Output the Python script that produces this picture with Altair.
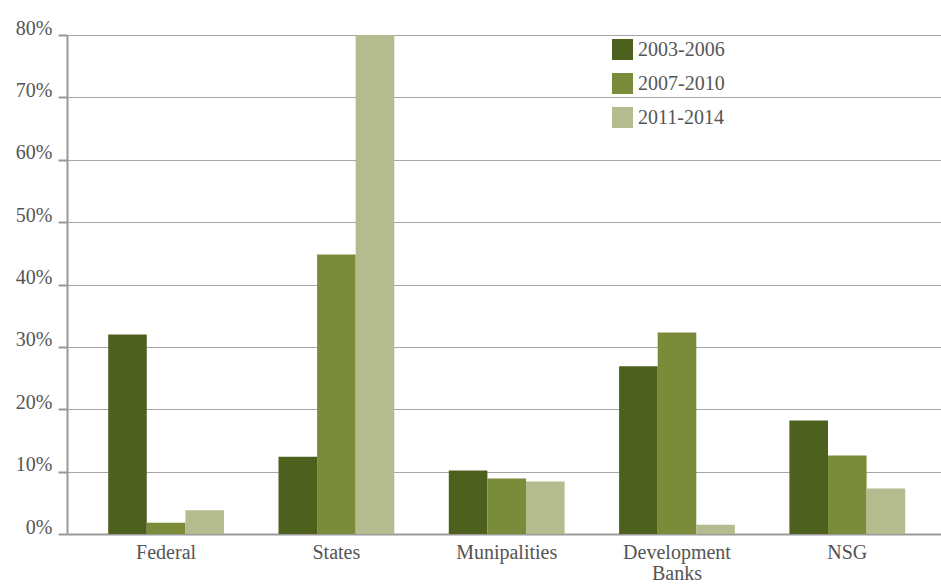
import altair as alt
import pandas as pd

# Share of issuance by issuer type, per period (percent)
categories = ["Federal", "States", "Munipalities", "Development Banks", "NSG"]
periods = ["2003-2006", "2007-2010", "2011-2014"]
share_2003_2006 = [32.0, 12.4, 10.2, 26.9, 18.2]
share_2007_2010 = [1.8, 44.8, 8.9, 32.3, 12.6]
share_2011_2014 = [3.8, 80.0, 8.4, 1.5, 7.3]
y_ticks = [0, 0.1, 0.2, 0.3, 0.4, 0.5, 0.6, 0.7, 0.8]

colors = ["#4e601e", "#7a8b3a", "#b4bb8e"]
font = "Liberation Serif"
text_color = "#555555"

rows = []
for period, values in zip(periods, [share_2003_2006, share_2007_2010, share_2011_2014]):
    for cat, v in zip(categories, values):
        rows.append({"category": cat, "period": period, "share": v / 100})
df = pd.DataFrame(rows)

chart = (
    alt.Chart(df)
    .mark_bar()
    .encode(
        x=alt.X(
            "category:N",
            sort=categories,
            title=None,
            scale=alt.Scale(paddingInner=0.32, paddingOuter=0.226, align=0.535),
            axis=alt.Axis(
                labelAngle=0,
                labelFont=font,
                labelFontSize=20,
                labelColor=text_color,
                labelPadding=8,
                labelLineHeight=21,
                labelExpr="datum.label == 'Development Banks' ? ['Development', 'Banks'] : datum.label",
                ticks=False,
                tickSize=0,
                domainColor="#999999",
                domainWidth=2,
                grid=False,
            ),
        ),
        xOffset=alt.XOffset(
            "period:N", sort=periods, scale=alt.Scale(paddingInner=0, paddingOuter=0)
        ),
        y=alt.Y(
            "share:Q",
            title=None,
            scale=alt.Scale(domain=[0, 0.8], nice=False),
            axis=alt.Axis(
                values=y_ticks,
                format=".0%",
                labelFont=font,
                labelFontSize=20,
                labelColor=text_color,
                labelPadding=6,
                labelBaseline="alphabetic",
                labelOffset=-1,
                tickSize=9,
                tickColor="#999999",
                tickWidth=2,
                domainColor="#999999",
                domainWidth=2,
                gridColor="#a6a6a6",
                gridWidth=1,
            ),
        ),
        color=alt.Color(
            "period:N",
            sort=periods,
            scale=alt.Scale(domain=periods, range=colors),
            legend=alt.Legend(
                title=None,
                orient="none",
                legendX=545,
                legendY=4,
                symbolType="square",
                symbolSize=441,
                symbolStrokeWidth=0,
                symbolOpacity=1,
                labelFont=font,
                labelFontSize=20,
                labelColor=text_color,
                labelOffset=5,
                rowPadding=13,
                padding=0,
            ),
        ),
    )
    .properties(
        width=874,
        height=499,
        autosize=alt.AutoSizeParams(type="none"),
        padding={"left": 67, "top": 35, "right": 0, "bottom": 50},
    )
    .configure_view(stroke=None)
    .configure(background="white")
)

chart.save("out.html", embed_options={"renderer": "svg", "actions": False})
